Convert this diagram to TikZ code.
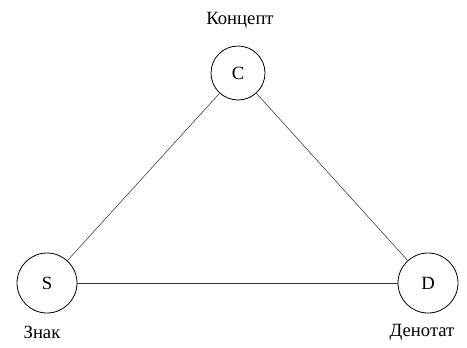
\documentclass[tikz,border=0pt]{standalone}
\usepackage{fontspec}
\setmainfont{Liberation Serif}
\usetikzlibrary{positioning}

\tikzset{
  vertex/.style={circle, draw, semithick, inner sep=0pt, font=\fontsize{14}{16}\selectfont},
  caption/.style={font=\fontsize{14}{16}\selectfont}
}

\begin{document}
\begin{tikzpicture}[x=0.75pt, y=-0.75pt]
                    \useasboundingbox (0,0) rectangle (467,347);
                    \node[vertex, minimum size=40.5pt] (C) at (238,73) {C};
                    \node[vertex, minimum size=45pt] (S) at (47,283) {S};
                    \node[vertex, minimum size=45pt] (D) at (428,283) {D};
                    \node[caption] (konc) at (240,20) {Концепт};
                    \node[caption] (znak) at (42,332) {Знак};
                    \node[caption] (den) at (422,332) {Денотат};
                    \draw[thin, black!80] (C) -- (S);
                    \draw[thin, black!80] (C) -- (D);
                    \draw[thin, black!80] (S) -- (D);
                \end{tikzpicture}
\end{document}
